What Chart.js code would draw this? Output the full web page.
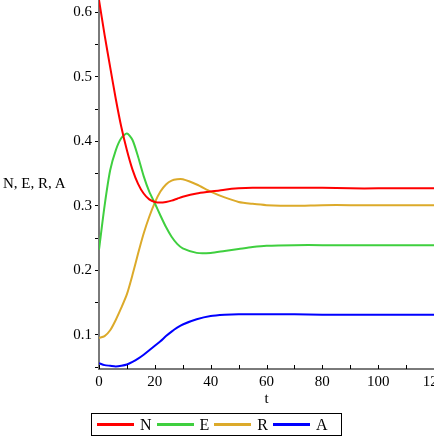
<!DOCTYPE html>
<html>
<head>
<meta charset="utf-8">
<script src="https://cdn.jsdelivr.net/npm/chart.js@4/dist/chart.umd.min.js"></script>
<style>
    body { margin: 0; background: #fff; }
    #wrap { position: relative; width: 434px; height: 446px; font-family: 'Liberation Serif', serif; }
    #yTitle { position: absolute; left: 3px; top: 175px; font-size: 15px; color: #000; }
    #legend {
        position: absolute; left: 91px; top: 413px; width: 249px; height: 21px;
        border: 1px solid #000; display: flex; align-items: center; font-size: 16px;
    }
    .item { display: flex; align-items: center; }
    .swatch { width: 37px; height: 3px; margin-left: 5px; margin-right: 6px; }
</style>
</head>
<body>
<div id="wrap">
    <canvas id="chart" width="434" height="446"></canvas>
    <div id="yTitle">N, E, R, A</div>
    <div id="legend"></div>
</div>
<script>
const t = [0, 2, 4, 6, 8, 10, 12, 14, 16, 18, 20, 22, 24, 26, 28, 30, 35, 40, 45, 50, 55, 60, 70, 80, 90, 100, 110, 120]

const nValues = [0.619, 0.565, 0.515, 0.466, 0.422, 0.386, 0.356, 0.334, 0.319, 0.310, 0.306, 0.305, 0.306, 0.308, 0.311, 0.314, 0.319, 0.322, 0.325, 0.327, 0.328, 0.328, 0.328, 0.328, 0.327, 0.327, 0.327, 0.327]
const eValues = [0.232, 0.300, 0.355, 0.386, 0.405, 0.412, 0.402, 0.376, 0.346, 0.322, 0.304, 0.285, 0.267, 0.252, 0.241, 0.234, 0.227, 0.227, 0.230, 0.233, 0.236, 0.238, 0.239, 0.239, 0.239, 0.239, 0.239, 0.239]
const rValues = [0.095, 0.098, 0.107, 0.123, 0.142, 0.163, 0.193, 0.226, 0.257, 0.283, 0.305, 0.322, 0.333, 0.339, 0.341, 0.341, 0.333, 0.322, 0.313, 0.306, 0.303, 0.301, 0.300, 0.301, 0.301, 0.301, 0.301, 0.301]
const aValues = [0.056, 0.053, 0.052, 0.051, 0.052, 0.054, 0.058, 0.063, 0.069, 0.076, 0.083, 0.090, 0.098, 0.105, 0.111, 0.116, 0.124, 0.129, 0.131, 0.132, 0.132, 0.132, 0.132, 0.131, 0.131, 0.131, 0.131, 0.131]

const seriesNames = ['N', 'E', 'R', 'A']
const seriesColors = ['#ff0000', '#3fcf3f', '#dcaa2a', '#0000ff']

const xTicks = [0, 10, 20, 30, 40, 50, 60, 70, 80, 90, 100, 110, 120]
const yTicks = [0.05, 0.1, 0.15, 0.2, 0.25, 0.3, 0.35, 0.4, 0.45, 0.5, 0.55, 0.6]

function toPoints(values) {
    return values.map((v, i) => ({ x: t[i], y: v }))
}

const datasets = [nValues, eValues, rValues, aValues].map((values, i) => ({
    label: seriesNames[i],
    data: toPoints(values),
    borderColor: seriesColors[i],
    borderWidth: 2,
    pointRadius: 0,
    tension: 0.25,
    fill: false
}))

// x tick marks point into the plot, so they are drawn here
const xTickMarks = {
    id: 'xTickMarks',
    afterDraw(chart) {
        const ctx = chart.ctx
        const x = chart.scales.x
        const bottom = chart.chartArea.bottom
        ctx.save()
        ctx.strokeStyle = '#000'
        ctx.lineWidth = 1
        xTicks.forEach(v => {
            const px = Math.round(x.getPixelForValue(v)) + 0.5
            ctx.beginPath()
            ctx.moveTo(px, bottom)
            ctx.lineTo(px, bottom - 4)
            ctx.stroke()
        })
        ctx.restore()
    }
}

const font = { family: "'Liberation Serif', serif", size: 15 }

new Chart(document.querySelector('#chart').getContext('2d'), {
    type: 'line',
    data: { datasets: datasets },
    options: {
        responsive: false,
        animation: false,
        layout: { padding: 0 },
        plugins: { legend: { display: false }, tooltip: { enabled: false } },
        scales: {
            x: {
                type: 'linear',
                min: 0,
                max: 120,
                afterBuildTicks: s => { s.ticks = xTicks.map(v => ({ value: v })) },
                afterFit: s => { s.height = 77; s.paddingLeft = 0; s.paddingRight = 0 },
                grid: { display: true, drawOnChartArea: false, drawTicks: false },
                border: { color: '#7a7a7a', width: 2 },
                ticks: {
                    color: '#000',
                    font: font,
                    padding: 4,
                    maxRotation: 0,
                    autoSkip: false,
                    callback: v => (v % 20 === 0 ? String(v) : '')
                },
                title: { display: true, text: 't', color: '#000', font: font, padding: { top: 0, bottom: 38 } }
            },
            y: {
                min: 0.047,
                max: 0.619,
                afterBuildTicks: s => { s.ticks = yTicks.map(v => ({ value: v })) },
                afterFit: s => { s.width = 99; s.paddingTop = 0; s.paddingBottom = 0 },
                grid: { display: true, drawOnChartArea: false, drawTicks: true, tickLength: 4, tickColor: '#000' },
                border: { color: '#7a7a7a', width: 2 },
                ticks: {
                    color: '#000',
                    font: font,
                    padding: 3,
                    autoSkip: false,
                    callback: v => {
                        const r = Math.round(v * 10)
                        return Math.abs(v * 10 - r) < 1e-6 ? (r / 10).toFixed(1) : ''
                    }
                }
            }
        }
    },
    plugins: [xTickMarks]
})

// Legend box under the plot
const legend = document.querySelector('#legend')
seriesNames.forEach((name, i) => {
    let item = document.createElement('div')
    item.className = 'item'
    let swatch = document.createElement('div')
    swatch.className = 'swatch'
    swatch.style.backgroundColor = seriesColors[i]
    item.appendChild(swatch)
    let label = document.createElement('span')
    label.textContent = name
    item.appendChild(label)
    legend.appendChild(item)
})
</script>
</body>
</html>
